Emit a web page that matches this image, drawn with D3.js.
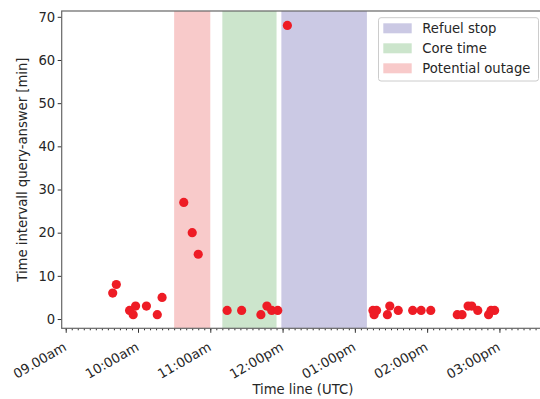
<!DOCTYPE html>
<html>
<head>
<meta charset="utf-8">
<script src="https://cdn.jsdelivr.net/npm/d3@7"></script>
<style>
  body { margin: 0; background: #fff; }
  svg { display: block; font-family: "DejaVu Sans", sans-serif; }
</style>
</head>
<body>
<div class="chart"></div>
<script>
// query times (UTC) and waiting time in minutes
var times = ["09:39","09:42","09:53","09:56","09:58","10:07","10:16","10:20",
             "10:38","10:45","10:50",
             "11:14","11:26","11:42","11:47","11:51","11:56","12:04",
             "13:15","13:16","13:18","13:27","13:29","13:36","13:48","13:55","14:03",
             "14:25","14:29","14:34","14:37","14:42","14:51","14:53","14:56"];
var minutes = [6,8,2,1,3,3,1,5,
               27,20,15,
               2,2,1,3,2,2,68,
               2,1,2,1,3,2,2,2,2,
               1,1,3,3,2,1,2,2];

var spanNames = ["Potential outage", "Core time", "Refuel stop"];
var spanStart = ["10:30", "11:10", "11:59"];
var spanEnd = ["11:00", "11:55", "13:10"];
var spanColors = ["#f8caca", "#cce5cc", "#cbc9e4"];

var tickTimes = ["09:00","10:00","11:00","12:00","13:00","14:00","15:00"];
var tickLabels = ["09.00am","10:00am","11:00am","12:00pm","01:00pm","02:00pm","03:00pm"];
var yTicks = [0,10,20,30,40,50,60,70];

var parse = d3.utcParse("%H:%M:%S");
function t(s) { return parse(s.length == 5 ? s + ":00" : s); }

var width = 540, height = 399;
var margin = {left: 61.7, right: 544, top: 11, bottom: 328.3};
var fontSize = "13.2px";

var svg = d3.select(".chart").append("svg")
    .attr("width", width)
    .attr("height", height);

var xScale = d3.scaleUtc()
    .domain([t("08:56:40"), t("15:37:00")])
    .range([margin.left, margin.right]);

var yScale = d3.scaleLinear()
    .domain([-2.15, 71.35])
    .range([margin.bottom, margin.top]);

// shaded spans
svg.selectAll(".span")
    .data(spanNames)
    .enter().append("rect")
    .attr("class", "span")
    .attr("x", (d, i) => xScale(t(spanStart[i])))
    .attr("width", (d, i) => xScale(t(spanEnd[i])) - xScale(t(spanStart[i])))
    .attr("y", margin.top)
    .attr("height", margin.bottom - margin.top)
    .attr("fill", (d, i) => spanColors[i]);

// points
svg.selectAll(".dot")
    .data(times)
    .enter().append("circle")
    .attr("class", "dot")
    .attr("cx", d => xScale(t(d)))
    .attr("cy", (d, i) => yScale(minutes[i]))
    .attr("r", 4.6)
    .attr("fill", "#ee1c25");

// minor ticks every 5 minutes
var minorAxis = d3.axisBottom(xScale)
    .tickValues(d3.utcMinute.every(5).range(t("09:00"), t("15:35")))
    .tickSize(2)
    .tickSizeOuter(0)
    .tickFormat("");

svg.append("g")
    .attr("class", "axis minor")
    .attr("transform", `translate(0, ${margin.bottom})`)
    .call(minorAxis);

var xAxis = d3.axisBottom(xScale)
    .tickValues(tickTimes.map(t))
    .tickSize(4.5)
    .tickSizeOuter(0)
    .tickFormat((d, i) => tickLabels[i]);

var gx = svg.append("g")
    .attr("class", "axis x-axis")
    .attr("transform", `translate(0, ${margin.bottom})`)
    .call(xAxis);

gx.selectAll("text")
    .attr("text-anchor", "end")
    .attr("y", 0)
    .attr("dy", "0.72em")
    .attr("transform", "translate(-3.5, 13) rotate(-30)");

var yAxis = d3.axisLeft(yScale)
    .tickValues(yTicks)
    .tickSize(4)
    .tickSizeOuter(0);

svg.append("g")
    .attr("class", "axis y-axis")
    .attr("transform", `translate(${margin.left}, 0)`)
    .call(yAxis);

svg.selectAll(".axis .domain").remove();
svg.selectAll(".axis .tick line").attr("stroke", "#333").attr("stroke-width", 1);
svg.selectAll(".axis text")
    .attr("fill", "#262626")
    .style("font-size", fontSize)
    .style("font-family", "DejaVu Sans");
svg.selectAll(".y-axis text").attr("x", -6.5);

// spines (right one falls outside the picture)
svg.append("rect")
    .attr("x", margin.left)
    .attr("y", margin.top)
    .attr("width", margin.right - margin.left)
    .attr("height", margin.bottom - margin.top)
    .attr("fill", "none")
    .attr("stroke", "#666")
    .attr("stroke-width", 1.2);

// axis labels
svg.append("text")
    .attr("x", (margin.left + margin.right) / 2)
    .attr("y", 394)
    .attr("text-anchor", "middle")
    .attr("fill", "#262626")
    .style("font-size", fontSize)
    .text("Time line (UTC)");

svg.append("text")
    .attr("transform", `translate(27, ${(margin.top + margin.bottom) / 2}) rotate(-90)`)
    .attr("text-anchor", "middle")
    .attr("fill", "#262626")
    .style("font-size", fontSize)
    .text("Time intervall query-answer [min]");

// legend
var legend = svg.append("g").attr("class", "legend");
legend.append("rect")
    .attr("x", 378.5)
    .attr("y", 17.7)
    .attr("width", 160)
    .attr("height", 63.3)
    .attr("rx", 2.5)
    .attr("fill", "#fff")
    .attr("fill-opacity", 0.8)
    .attr("stroke", "#cccccc")
    .attr("stroke-width", 1);

var legendOrder = [2, 1, 0];
var rows = legend.selectAll(".row")
    .data(legendOrder)
    .enter().append("g")
    .attr("class", "row")
    .attr("transform", (d, i) => `translate(383.3, ${28.3 + i * 20})`);

rows.append("rect")
    .attr("x", 0)
    .attr("y", -5)
    .attr("width", 28.4)
    .attr("height", 10)
    .attr("fill", d => spanColors[d]);

rows.append("text")
    .attr("x", 39)
    .attr("y", 4.7)
    .attr("fill", "#262626")
    .style("font-size", fontSize)
    .text(d => spanNames[d]);
</script>
</body>
</html>
